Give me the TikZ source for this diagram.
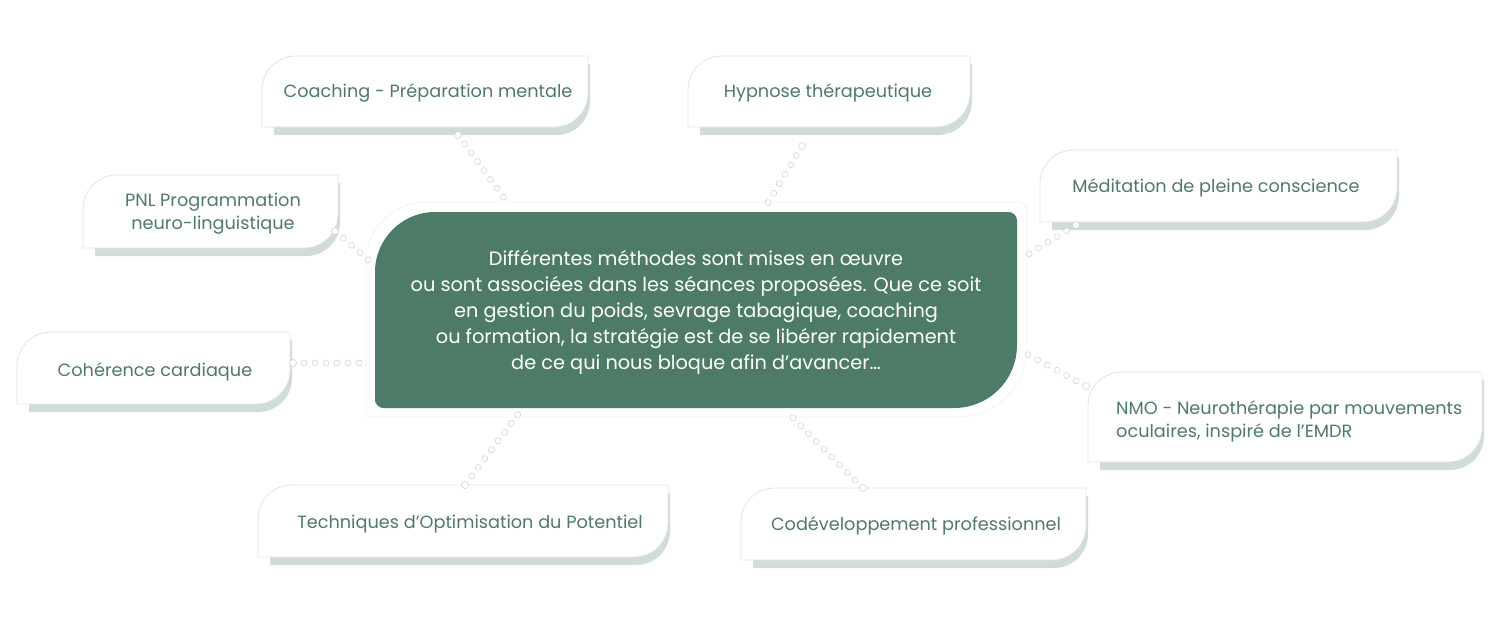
\documentclass[tikz,border=0pt]{standalone}
\usepackage{fontspec}
\setmainfont{Poppins}
\usetikzlibrary{decorations.markings}

\definecolor{sage}{HTML}{4E7A68}
\definecolor{sageshadow}{HTML}{D0DDD7}
\definecolor{edgegray}{HTML}{E3E3E3}
\definecolor{dotgray}{HTML}{CDCDCD}

% tag outline: x1 y1 x2 y2, rounded top-left and bottom-right
\newcommand\tagpath[5][]{%
  \path[#1] (#2,#5) -- (#2,#3+34) .. controls (#2,#3+15) and (#2+15,#3) .. (#2+34,#3)
    -- (#4,#3) -- (#4,#5-34) .. controls (#4,#5-15) and (#4-15,#5) .. (#4-34,#5) -- cycle;}

% one tag = shadow + white card
\newcommand\tagbox[4]{%
  \tagpath[fill=sageshadow]{#1+12}{#2+8}{#3+2}{#4+8}
  \tagpath[fill=white, draw=edgegray, line width=0.8pt]{#1}{#2}{#3}{#4}}

\tikzset{
  tagtext/.style={text=sage, font=\fontsize{17.7}{23}\selectfont, align=center, inner sep=0pt},
  dotline/.style={decoration={markings,
      mark=between positions 0 and 1 step 11pt with {\draw[dotgray, fill=white, line width=0.5pt] (0,0) circle (3pt);}},
    postaction={decorate}},
  enddot/.style={circle, fill=white, draw=dotgray, line width=0.5pt, inner sep=0pt, minimum size=7pt}
}

\begin{document}
\begin{tikzpicture}[x=1pt, y=-1pt]
\useasboundingbox (0,0) rectangle (1500,637);

% Centre card
\path[draw=black!5, line width=0.8pt] (366,417) -- (366,262) .. controls (366,229) and (393,202) .. (426,202)
  -- (1018,202) .. controls (1023,202) and (1027,206) .. (1027,211)
  -- (1027,348) .. controls (1027,387) and (996,417) .. (957,417) -- cycle;
\fill[sage] (375,400) -- (375,272) .. controls (375,239) and (402,212) .. (435,212)
  -- (1009,212) .. controls (1013,212) and (1017,216) .. (1017,220)
  -- (1017,345) .. controls (1017,380) and (989,408) .. (954,408)
  -- (383,408) .. controls (379,408) and (375,404) .. (375,400) -- cycle;
\node[text=white, font=\fontsize{19.3}{26}\selectfont, align=center] (centre) at (696,312)
  {Différentes méthodes sont mises en œuvre\\
   ou sont associées dans les séances proposées. Que ce soit\\
   en gestion du poids, sevrage tabagique, coaching\\
   ou formation, la stratégie est de se libérer rapidement\\
   de ce qui nous bloque afin d’avancer…};

% Cards
\tagbox{262}{56}{588}{127}
\tagbox{688}{56}{970}{127}
\tagbox{83}{175}{338}{248}
\tagbox{1040}{150}{1397}{222}
\tagbox{17}{332}{290}{404}
\tagbox{1088}{372}{1482}{462}
\tagbox{258}{485}{668}{557}
\tagbox{741}{488}{1086}{560}

\node[tagtext] (coach) at (428,93) {Coaching - Préparation mentale};
\node[tagtext] (hypno) at (828,93) {Hypnose thérapeutique};
\node[tagtext] (pnl) at (213,214) {PNL Programmation\\neuro-linguistique};
\node[tagtext] (medit) at (1216,188) {Méditation de pleine conscience};
\node[tagtext] (coher) at (155,372) {Cohérence cardiaque};
\node[tagtext, align=left, anchor=west] (nmo) at (1116,421) {NMO - Neurothérapie par mouvements\\oculaires, inspiré de l'EMDR};
\node[tagtext] (techn) at (470,524) {Techniques d'Optimisation du Potentiel};
\node[tagtext] (codev) at (916,526) {Codéveloppement professionnel};

% Connector ends
\coordinate (coach-e) at (458,135);  \coordinate (coach-c) at (507,202);
\coordinate (hypno-e) at (802,146);  \coordinate (hypno-c) at (766,206);
\coordinate (pnl-e) at (335,231);    \coordinate (pnl-c) at (370,261);
\coordinate (medit-e) at (1076,225); \coordinate (medit-c) at (1024,257);
\coordinate (coher-e) at (293,363);  \coordinate (coher-c) at (366,363);
\coordinate (nmo-e) at (1086,386);   \coordinate (nmo-c) at (1023,352);
\coordinate (techn-e) at (465,485);  \coordinate (techn-c) at (522,409);
\coordinate (codev-e) at (863,488);  \coordinate (codev-c) at (787,412);

% Dotted connectors
\foreach \n in {coach,hypno,pnl,medit,coher,nmo,techn,codev}{
  \path[dotline] (\n-e) -- (\n-c);
  \node[enddot] at (\n-e) {};
}

\end{tikzpicture}
\end{document}
